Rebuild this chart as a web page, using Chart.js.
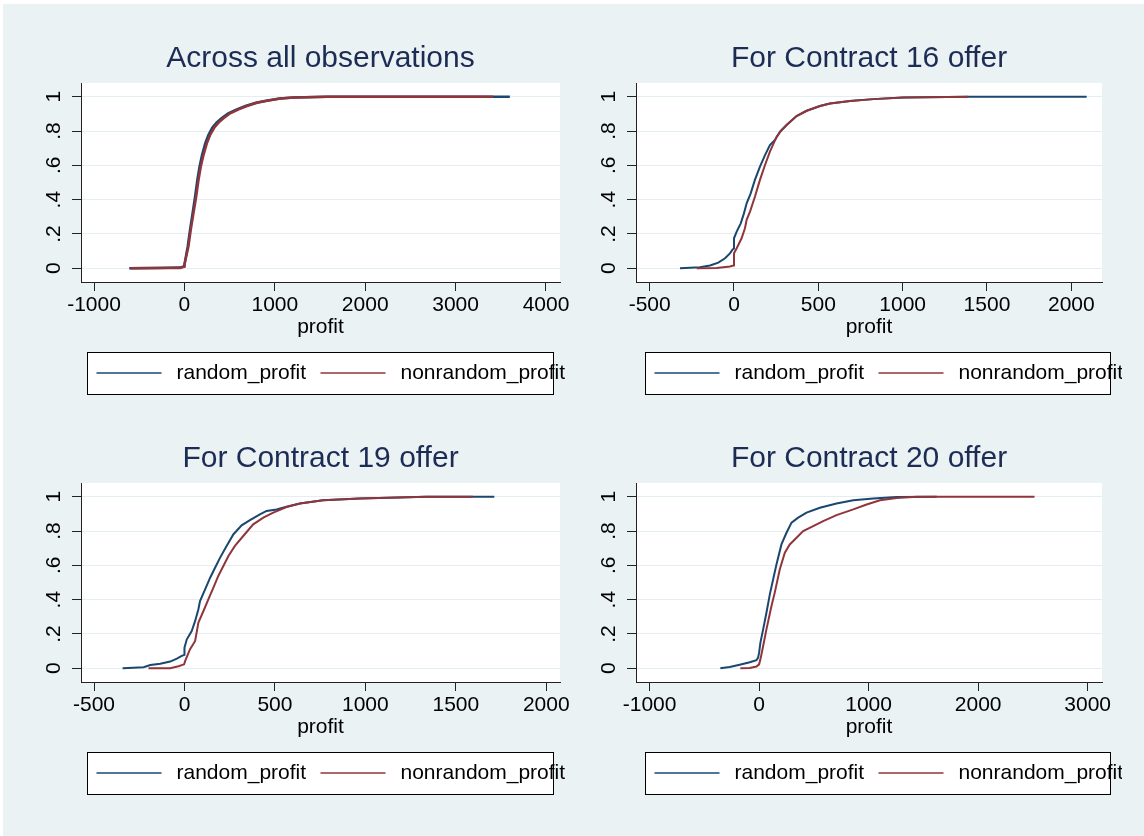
<!DOCTYPE html>
<html>
<head>
<meta charset="utf-8">
<script src="https://cdn.jsdelivr.net/npm/chart.js@4.4.1/dist/chart.umd.min.js"></script>
<style>
  html, body { margin: 0; padding: 0; background: #fff; }
  #bg { position: absolute; left: 3px; top: 4px; width: 1141px; height: 832px; background: #eaf2f3; }
  canvas { position: absolute; }
</style>
</head>
<body>
<div id="bg"></div>
<canvas id="g1" width="580" height="370" style="left:0px;top:30px"></canvas>
<canvas id="g2" width="550" height="370" style="left:572px;top:30px"></canvas>
<canvas id="g3" width="580" height="370" style="left:0px;top:430px"></canvas>
<canvas id="g4" width="550" height="370" style="left:572px;top:430px"></canvas>
<script>
const seriesLabels = ['random_profit', 'nonrandom_profit'];
const panelTitles = ['Across all observations', 'For Contract 16 offer', 'For Contract 19 offer', 'For Contract 20 offer'];
const yTicks = [0, 0.2, 0.4, 0.6, 0.8, 1];
const yTickLabels = ['0', '.2', '.4', '.6', '.8', '1'];

const xTicksAll = [-1000, 0, 1000, 2000, 3000, 4000];
const allRandomX = [-610, -300, -50, 0, 0, 36, 62, 90, 118, 143, 167, 195, 230, 265, 308, 355, 410, 485, 580, 675, 790, 905, 1055, 1205, 1580, 3600];
const allRandomY = [0, 0.002, 0.004, 0.012, 0.02, 0.126, 0.223, 0.32, 0.417, 0.515, 0.592, 0.66, 0.728, 0.777, 0.819, 0.849, 0.874, 0.903, 0.926, 0.946, 0.965, 0.977, 0.99, 0.996, 1, 1];
const allNonrandomX = [-600, -300, -48, 0, 0, 44, 70, 100, 130, 156, 181, 211, 248, 285, 330, 378, 433, 507, 600, 693, 804, 915, 1063, 1211, 1581, 3415];
const allNonrandomY = [0, 0.001, 0.002, 0.01, 0.02, 0.126, 0.223, 0.32, 0.417, 0.515, 0.592, 0.66, 0.728, 0.777, 0.819, 0.849, 0.874, 0.903, 0.926, 0.946, 0.965, 0.977, 0.99, 0.996, 1, 1];

const xTicksC16 = [-500, 0, 500, 1000, 1500, 2000];
const c16RandomX = [-320, -202, -142, -93, -53, -24, -8, 0, 0, 16, 40, 59, 75, 99, 124, 154, 184, 213, 243, 273, 312, 371, 431, 510, 569, 688, 826, 1004, 1399, 2091];
const c16RandomY = [0, 0.006, 0.016, 0.033, 0.058, 0.087, 0.11, 0.115, 0.175, 0.214, 0.262, 0.32, 0.379, 0.437, 0.515, 0.592, 0.66, 0.718, 0.748, 0.796, 0.835, 0.887, 0.918, 0.946, 0.961, 0.975, 0.986, 0.996, 1, 1];
const c16NonrandomX = [-221, -103, -24, -4, 0, 0, 16, 45, 65, 75, 95, 124, 154, 184, 213, 253, 283, 312, 371, 431, 510, 569, 688, 826, 1004, 1389];
const c16NonrandomY = [0, 0.002, 0.01, 0.016, 0.02, 0.087, 0.117, 0.175, 0.233, 0.282, 0.33, 0.417, 0.515, 0.602, 0.68, 0.767, 0.806, 0.835, 0.887, 0.918, 0.946, 0.961, 0.975, 0.986, 0.996, 1];

const xTicksC19 = [-500, 0, 500, 1000, 1500, 2000];
const c19RandomX = [-342, -226, -189, -134, -79, -42, -15, 0, 0, 13, 40, 59, 77, 86, 114, 142, 169, 197, 233, 270, 316, 362, 417, 454, 509, 564, 638, 766, 969, 1336, 1713];
const c19RandomY = [0, 0.006, 0.019, 0.027, 0.039, 0.056, 0.072, 0.078, 0.12, 0.169, 0.217, 0.276, 0.344, 0.392, 0.46, 0.528, 0.586, 0.645, 0.713, 0.78, 0.833, 0.864, 0.897, 0.917, 0.926, 0.942, 0.961, 0.979, 0.99, 1, 1];
const c19NonrandomX = [-199, -79, -33, -2, 4, 31, 59, 77, 105, 132, 160, 187, 215, 243, 279, 325, 380, 436, 491, 564, 638, 766, 969, 1336, 1594];
const c19NonrandomY = [0, 0, 0.012, 0.023, 0.043, 0.111, 0.159, 0.266, 0.334, 0.402, 0.47, 0.538, 0.596, 0.654, 0.713, 0.771, 0.839, 0.878, 0.907, 0.94, 0.961, 0.979, 0.99, 1, 1];

const xTicksC20 = [-1000, 0, 1000, 2000, 3000];
const c20RandomX = [-354, -268, -177, -85, -24, -9, 0, 12, 37, 67, 98, 128, 159, 204, 250, 296, 357, 433, 555, 707, 860, 1043, 1256, 1622];
const c20RandomY = [0, 0.008, 0.021, 0.035, 0.047, 0.062, 0.091, 0.15, 0.227, 0.324, 0.431, 0.518, 0.606, 0.722, 0.79, 0.849, 0.878, 0.907, 0.936, 0.961, 0.979, 0.99, 0.998, 1];
const c20NonrandomX = [-171, -85, -24, 0, 12, 37, 67, 113, 143, 189, 235, 280, 326, 402, 494, 585, 707, 860, 982, 1104, 1256, 1439, 2515];
const c20NonrandomY = [0, 0.002, 0.01, 0.023, 0.052, 0.13, 0.227, 0.363, 0.441, 0.577, 0.674, 0.722, 0.751, 0.8, 0.829, 0.858, 0.893, 0.926, 0.955, 0.979, 0.992, 1, 1];

const colors = ['#1a476f', '#90353b'];
Chart.defaults.font.family = '"Liberation Sans", Arial, sans-serif';

// white plot region
const plotBg = {
  id: 'plotBg',
  beforeDraw(chart) {
    const { ctx, chartArea: a } = chart;
    ctx.save();
    ctx.fillStyle = '#fff';
    ctx.fillRect(a.left, a.top, a.right - a.left, a.bottom - a.top);
    ctx.restore();
  }
};

// boxed legend below the axis (box narrower than its text, as in the original)
const stataLegend = {
  id: 'stataLegend',
  afterDraw(chart, args, opts) {
    const ctx = chart.ctx;
    const cy = opts.y + opts.h / 2;
    ctx.save();
    ctx.fillStyle = '#fff';
    ctx.fillRect(opts.x, opts.y, opts.w, opts.h);
    ctx.font = '21px "Liberation Sans", Arial, sans-serif';
    ctx.textBaseline = 'middle';
    chart.data.datasets.forEach((ds, i) => {
      const x0 = opts.x + 9.5 + i * 224;
      ctx.strokeStyle = ds.borderColor;
      ctx.lineWidth = 1.5;
      ctx.beginPath();
      ctx.moveTo(x0, cy);
      ctx.lineTo(x0 + 65, cy);
      ctx.stroke();
      ctx.fillStyle = '#000';
      ctx.fillText(ds.label, x0 + 80, cy);
    });
    ctx.strokeStyle = '#000';
    ctx.lineWidth = 1;
    ctx.strokeRect(opts.x + 0.5, opts.y + 0.5, opts.w, opts.h);
    ctx.restore();
  }
};

function points(xs, ys) {
  return xs.map((x, i) => ({ x: x, y: ys[i] }));
}

function makePanel(id, title, xTicks, xMin, xMax, rX, rY, nX, nY, yAxisWidth, legendBox, lineW) {
  new Chart(document.getElementById(id), {
    type: 'scatter',
    data: {
      datasets: [
        { label: seriesLabels[0], data: points(rX, rY), borderColor: colors[0], order: 1 },
        { label: seriesLabels[1], data: points(nX, nY), borderColor: colors[1], order: 0 }
      ]
    },
    options: {
      responsive: false,
      animation: false,
      showLine: true,
      elements: {
        point: { radius: 0 },
        line: { borderWidth: lineW, tension: 0 }
      },
      layout: { padding: { left: 0, right: 20, top: 0, bottom: 60 } },
      plugins: {
        legend: { display: false },
        tooltip: { enabled: false },
        title: {
          display: true,
          text: title,
          fullSize: false,
          color: '#1c2c55',
          font: { size: 30, weight: 'normal' },
          padding: { top: 11, bottom: 6 }
        },
        stataLegend: legendBox
      },
      scales: {
        x: {
          type: 'linear',
          min: xMin,
          max: xMax,
          afterBuildTicks: s => { s.ticks = xTicks.map(v => ({ value: v })); },
          afterFit: s => { s.height = 58; },
          ticks: { color: '#000', font: { size: 21 }, padding: 2, maxRotation: 0, autoSkip: false, callback: v => String(v) },
          grid: { drawOnChartArea: false, tickLength: 9, tickColor: '#222', tickWidth: 1 },
          border: { color: '#222', width: 1 },
          title: { display: true, text: 'profit', color: '#000', font: { size: 21 }, padding: 0 }
        },
        y: {
          min: -0.08,
          max: 1.08,
          afterBuildTicks: s => { s.ticks = yTicks.map(v => ({ value: v })); },
          afterFit: s => { s.width = yAxisWidth; },
          ticks: {
            color: '#000', font: { size: 21 }, padding: 9,
            minRotation: 90, maxRotation: 90, crossAlign: 'center',
            callback: v => yTickLabels[yTicks.indexOf(v)]
          },
          grid: { color: '#e4eef0', lineWidth: 1, tickLength: 9, tickColor: '#222', tickWidth: 1 },
          border: { color: '#222', width: 1 }
        }
      }
    },
    plugins: [plotBg, stataLegend]
  });
}

makePanel('g1', panelTitles[0], xTicksAll, -1144, 4155, allRandomX, allRandomY, allNonrandomX, allNonrandomY,
  81, { x: 87, y: 322, w: 466, h: 42 }, 2.5);
makePanel('g2', panelTitles[1], xTicksC16, -581, 2182, c16RandomX, c16RandomY, c16NonrandomX, c16NonrandomY,
  64, { x: 73, y: 322, w: 465, h: 42 }, 2);
makePanel('g3', panelTitles[2], xTicksC19, -572, 2076, c19RandomX, c19RandomY, c19NonrandomX, c19NonrandomY,
  81, { x: 87, y: 322, w: 466, h: 42 }, 2);
makePanel('g4', panelTitles[3], xTicksC20, -1124, 3131, c20RandomX, c20RandomY, c20NonrandomX, c20NonrandomY,
  64, { x: 73, y: 322, w: 465, h: 42 }, 2);
</script>
</body>
</html>
